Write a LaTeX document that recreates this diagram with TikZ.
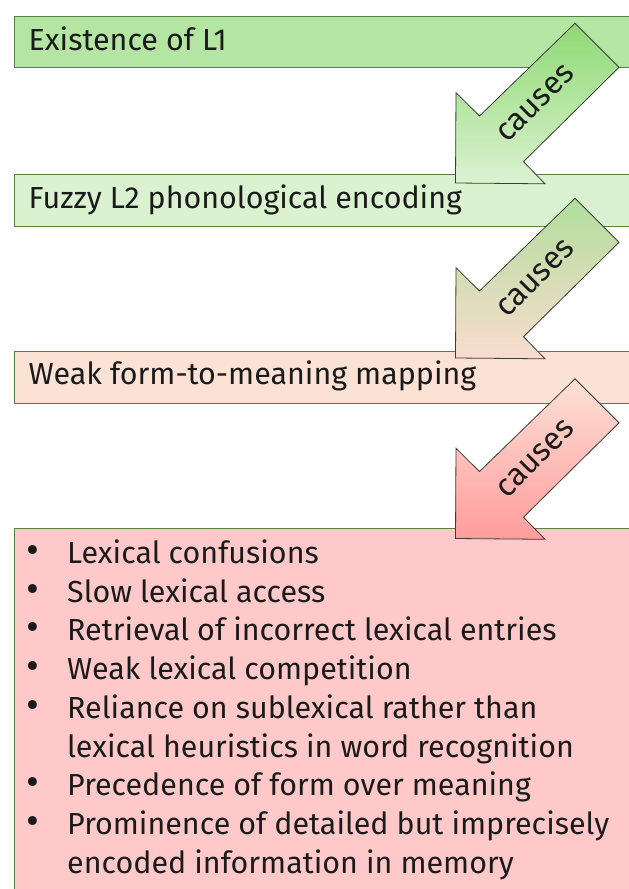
\documentclass[tikz,border=0pt]{standalone}
\usepackage{fontspec}
\usepackage{graphicx}
\setmainfont{Fira Sans}
\usetikzlibrary{calc}
\definecolor{gA}{HTML}{B4E5A2}
\definecolor{gB}{HTML}{DAF2D0}
\definecolor{pC}{HTML}{FBE2D5}
\definecolor{rD}{HTML}{FFC9C9}
\definecolor{boxedge}{HTML}{56803F}
\definecolor{arrowedge}{HTML}{3C3C3C}
\definecolor{ink}{HTML}{1A1A1A}
\definecolor{a1top}{HTML}{8ED973}
\definecolor{a1bot}{HTML}{DCF2D2}
\definecolor{a2top}{HTML}{B0DE9C}
\definecolor{a2bot}{HTML}{FADCCF}
\definecolor{a3top}{HTML}{FBE1D5}
\definecolor{a3bot}{HTML}{FF9C9C}
\newlength\reflen
\newcommand\bodyfont{\fontsize{\fs pt}{38.75pt}\selectfont}
\newcommand\lblfont{\fontsize{\fs pt}{\fs pt}\selectfont}
\newcommand\bul{\makebox[0pt]{\scalebox{1.3}{•}}}
\tikzset{
  box/.style={draw=boxedge, line width=0.9pt, rectangle, inner sep=0pt, anchor=north west, minimum width=640pt},
  boxtext/.style={anchor=base west, inner sep=0pt, text=ink, font=\bodyfont},
  pics/causearrow/.style 2 args={code={
    \path[draw=arrowedge, line width=0.8pt, line join=miter, top color=#1, bottom color=#2]
      (119.5,-159.7) -- (24,-67) -- (0.5,-90.3) -- (0,0) -- (89.5,0.8) -- (68,-21.3) -- (163.5,-115.7) -- cycle;
    \node (-lbl) [rotate=45, inner sep=0pt, text=ink, font=\lblfont, scale=1.04] at (80,-79.5) {causes};
  }}
}
\begin{document}
\settowidth{\reflen}{\fontsize{10pt}{12pt}\selectfont Prominence of detailed but imprecisely}%
\pgfmathsetmacro{\fs}{5420/\reflen}%
\begin{tikzpicture}[x=1pt,y=-1pt]
\useasboundingbox (0,0) rectangle (629,889);
\clip (0,0) rectangle (629,889);
\fill[white] (0,0) rectangle (629,889);
% boxes
\node (box1) [box, fill=gA, minimum height=51pt] at (14,16) {};
\node (box2) [box, fill=gB, minimum height=52.5pt] at (14,173.5) {};
\node (box3) [box, fill=pC, minimum height=52.5pt] at (14,350.5) {};
\node (box4) [box, fill=rD, minimum height=400pt] at (14,527.5) {};
% box texts
\node (t1) [boxtext] at (28.5,50.5) {Existence of L1};
\node (t2) [boxtext] at (28.5,208.3) {Fuzzy L2 phonological encoding};
\node (t3) [boxtext] at (28.5,384.7) {Weak form-to-meaning mapping};
\node (list) [boxtext] at (32.3,563.3) {%
\begin{tabular}[t]{@{}l@{\hspace{34.7pt}}l@{}}
\bul & Lexical confusions\\
\bul & Slow lexical access\\
\bul & Retrieval of incorrect lexical entries\\
\bul & Weak lexical competition\\
\bul & Reliance on sublexical rather than\\
 & lexical heuristics in word recognition\\
\bul & Precedence of form over meaning\\
\bul & Prominence of detailed but imprecisely\\
 & encoded information in memory
\end{tabular}};
% arrows
\pic (ar1) at (455.5,183) {causearrow={a1top}{a1bot}};
\pic (ar2) at (455.5,358) {causearrow={a2top}{a2bot}};
\pic (ar3) at (455.5,538.5) {causearrow={a3top}{a3bot}};
\end{tikzpicture}
\end{document}
